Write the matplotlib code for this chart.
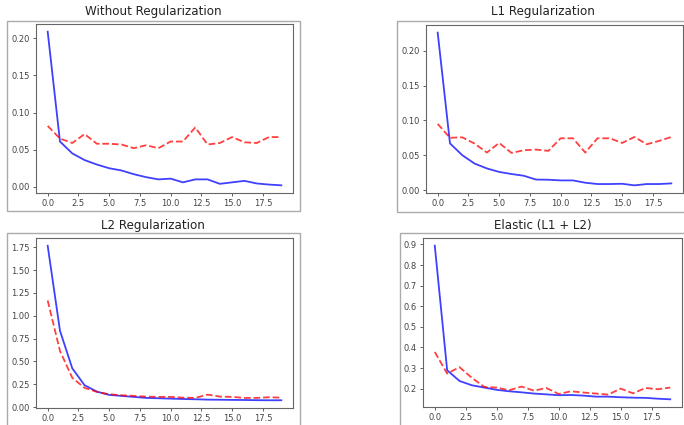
import matplotlib
matplotlib.use("Agg")
import matplotlib.pyplot as plt
from matplotlib.patches import Rectangle
from matplotlib.ticker import MultipleLocator

# Donnees (20 epoques)
epochs = list(range(20))

titles = ["Without Regularization", "L1 Regularization", "L2 Regularization", "Elastic (L1 + L2)"]

train_none = [0.209, 0.061, 0.045, 0.036, 0.030, 0.025, 0.022, 0.017, 0.013, 0.010,
              0.011, 0.006, 0.010, 0.010, 0.004, 0.006, 0.008, 0.0045, 0.003, 0.002]
val_none = [0.082, 0.065, 0.059, 0.071, 0.058, 0.058, 0.057, 0.052, 0.056, 0.052,
            0.061, 0.061, 0.080, 0.057, 0.059, 0.067, 0.060, 0.059, 0.067, 0.067]

train_l1 = [0.226, 0.067, 0.050, 0.038, 0.031, 0.026, 0.023, 0.0205, 0.015, 0.0148,
            0.0138, 0.0138, 0.0105, 0.0086, 0.0086, 0.009, 0.0067, 0.0086, 0.0086, 0.0095]
val_l1 = [0.095, 0.075, 0.0757, 0.0667, 0.0538, 0.0676, 0.0533, 0.0571, 0.0581, 0.0562,
          0.0743, 0.0743, 0.0538, 0.0743, 0.0743, 0.0676, 0.0762, 0.0657, 0.0705, 0.0762]

train_l2 = [1.768, 0.836, 0.424, 0.239, 0.169, 0.133, 0.122, 0.111, 0.100, 0.096,
            0.092, 0.088, 0.085, 0.081, 0.080, 0.078, 0.077, 0.075, 0.074, 0.074]
val_l2 = [1.168, 0.615, 0.320, 0.210, 0.166, 0.140, 0.129, 0.122, 0.114, 0.111,
          0.111, 0.103, 0.100, 0.136, 0.114, 0.111, 0.100, 0.100, 0.107, 0.103]

train_el = [0.894, 0.289, 0.237, 0.216, 0.205, 0.194, 0.187, 0.182, 0.176, 0.172,
            0.168, 0.169, 0.166, 0.161, 0.161, 0.158, 0.156, 0.155, 0.151, 0.148]
val_el = [0.378, 0.273, 0.304, 0.252, 0.208, 0.205, 0.192, 0.210, 0.190, 0.203,
          0.174, 0.187, 0.181, 0.176, 0.171, 0.200, 0.177, 0.203, 0.197, 0.205]

W, H = 684, 425
fig = plt.figure(figsize=(W / 100, H / 100), dpi=100)


def box(l, t, r, b):
    # pixels (haut-gauche) -> fraction de figure
    return [l / W, 1 - b / H, (r - l) / W, (b - t) / H]


# cadres gris autour de chaque capture
frames = [(7, 21, 300, 211), (397, 21, 700, 212), (7, 233, 300, 440), (400, 233, 700, 440)]
axes_px = [(36, 24, 293, 193), (426, 25, 683, 193), (36, 238, 293, 408), (423, 238, 682, 407)]
title_pos = [(153, 12), (543, 12), (153, 225), (543, 226)]
steps = [0.05, 0.05, 0.25, 0.1]
data = [(train_none, val_none), (train_l1, val_l1), (train_l2, val_l2), (train_el, val_el)]

for i in range(4):
    l, t, r, b = frames[i]
    fig.patches.append(Rectangle((l / W, 1 - b / H), (r - l) / W, (b - t) / H,
                                 transform=fig.transFigure, fill=False,
                                 edgecolor="#ababab", lw=1.0))
    ax = fig.add_axes(box(*axes_px[i]))
    tr, va = data[i]
    ax.plot(epochs, tr, color="b", alpha=0.75, lw=1.3)
    ax.plot(epochs, va, "r--", alpha=0.75, lw=1.3)
    ax.yaxis.set_major_locator(MultipleLocator(steps[i]))
    ax.xaxis.set_major_locator(MultipleLocator(2.5))
    ax.tick_params(labelsize=6, colors="#444444", length=2.5, width=0.6, pad=2)
    for s in ax.spines.values():
        s.set_color("#666666")
        s.set_linewidth(0.8)
    if i == 2:
        ax.yaxis.set_major_formatter(matplotlib.ticker.FormatStrFormatter("%.2f"))
    if i == 3:
        ax.yaxis.set_major_formatter(matplotlib.ticker.FormatStrFormatter("%.1f"))
    x, y = title_pos[i]
    fig.text(x / W, 1 - y / H, titles[i], ha="center", va="center", fontsize=8.6, color="#222222")

plt.savefig("out.png", dpi=100)
